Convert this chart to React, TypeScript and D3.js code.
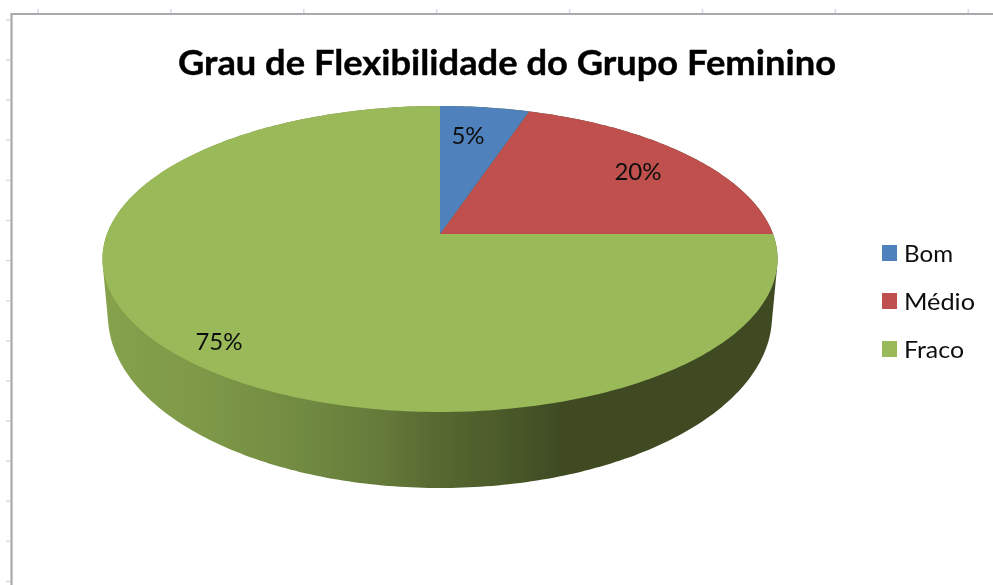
import React from "react";
import * as d3 from "d3";

const categories = ["Bom", "Médio", "Fraco"];
const values = [5, 20, 75];
const colors = ["#4f81bd", "#c0504d", "#9aba59"];
const titleText = "Grau de Flexibilidade do Grupo Feminino";
const gradientStops: [number, string][] = [
  [0, "#86a24c"],
  [0.15, "#7e9848"],
  [0.3, "#718a41"],
  [0.42, "#64793a"],
  [0.5, "#576830"],
  [0.6, "#4a5929"],
  [0.68, "#3f4a23"],
  [1, "#3f4a23"],
];

const W = 993;
const H = 585;
const FONT = "Lato, 'Open Sans', sans-serif";

const cx = 440;
const cy = 234;
const persp = -0.1634;
const radX = 333;
const radY = 148.9;

function project(angle: number): [number, number] {
  const u = Math.sin(angle);
  const v = -Math.cos(angle);
  const d = 1 + persp * v;
  return [cx + (radX * u) / d, cy + (radY * v) / d];
}

function rim(a0: number, a1: number): [number, number][] {
  const n = Math.max(2, Math.ceil(((a1 - a0) / (2 * Math.PI)) * 360));
  return d3.range(n + 1).map((i) => project(a0 + ((a1 - a0) * i) / n));
}

const lowerRim: [number, number][] = d3
  .range(360)
  .map((i) => {
    const a = (i / 360) * 2 * Math.PI;
    return [cx + 332 * Math.sin(a), 316 - 172 * Math.cos(a)] as [number, number];
  });

const line = d3.line();
const arcs = d3.pie<number>().sort(null)(values);

const sidePoints = d3.polygonHull([...rim(0, 2 * Math.PI), ...lowerRim])!;

const legendY = d3.scalePoint<string>().domain(categories).range([253, 349]);
const legendWidths = [49, 71, 60];
const labelPos: [number, number][] = [
  [468, 134],
  [638, 170],
  [219, 340],
];
const topTicks = d3.range(38, W, 132.9);
const leftTicks = d3.range(20, H, 40.1);

export default function App() {
  return (
    <svg
      width={W}
      height={H}
      viewBox={`0 0 ${W} ${H}`}
      style={{ position: "absolute", left: 0, top: 0, display: "block", background: "#fff" }}
    >
      <defs>
        <linearGradient id="side" gradientUnits="userSpaceOnUse" x1={102} x2={778} y1={0} y2={0}>
          {gradientStops.map(([o, c]) => (
            <stop key={o} offset={o} stopColor={c} />
          ))}
        </linearGradient>
        <filter id="soft" x="-5%" y="-20%" width="110%" height="140%">
          <feGaussianBlur stdDeviation="0.45" />
        </filter>
      </defs>

      {topTicks.map((x) => (
        <line key={x} x1={x} x2={x} y1={9} y2={13} stroke="#d5dae8" strokeWidth={1.5} />
      ))}
      {leftTicks.map((y) => (
        <line key={y} x1={6} x2={10} y1={y} y2={y} stroke="#d5dae8" strokeWidth={1.5} />
      ))}
      <path d={`M11.5,${H}V14H${W}`} fill="none" stroke="#a9a9ab" strokeWidth={2.2} />

      <text
        x={178}
        y={75}
        textLength={658}
        lengthAdjust="spacingAndGlyphs"
        fontFamily={FONT}
        fontWeight={700}
        fontSize={35}
        fill="#000"
        stroke="#000"
        strokeWidth={0.4}
        filter="url(#soft)"
      >
        {titleText}
      </text>

      <path d={line(sidePoints) + "Z"} fill="url(#side)" />
      {[2, 1, 0].map((i) => {
        const a = arcs[i];
        const pts: [number, number][] = [[cx, cy], ...rim(a.startAngle, a.endAngle)];
        return <path key={i} d={line(pts) + "Z"} fill={colors[i]} />;
      })}

      {values.map((v, i) => (
        <text
          key={i}
          x={labelPos[i][0]}
          y={labelPos[i][1]}
          textAnchor="middle"
          dominantBaseline="central"
          fontFamily={FONT}
          fontSize={24}
          fill="#111"
          filter="url(#soft)"
        >
          {v}%
        </text>
      ))}

      {categories.map((c, i) => (
        <g key={c}>
          <rect x={882} y={legendY(c)! - 8} width={15} height={16} fill={colors[i]} />
          <text
            x={904}
            y={legendY(c)!}
            dominantBaseline="central"
            textLength={legendWidths[i]}
            lengthAdjust="spacingAndGlyphs"
            fontFamily={FONT}
            fontSize={23}
            fill="#111"
            filter="url(#soft)"
          >
            {c}
          </text>
        </g>
      ))}
    </svg>
  );
}
